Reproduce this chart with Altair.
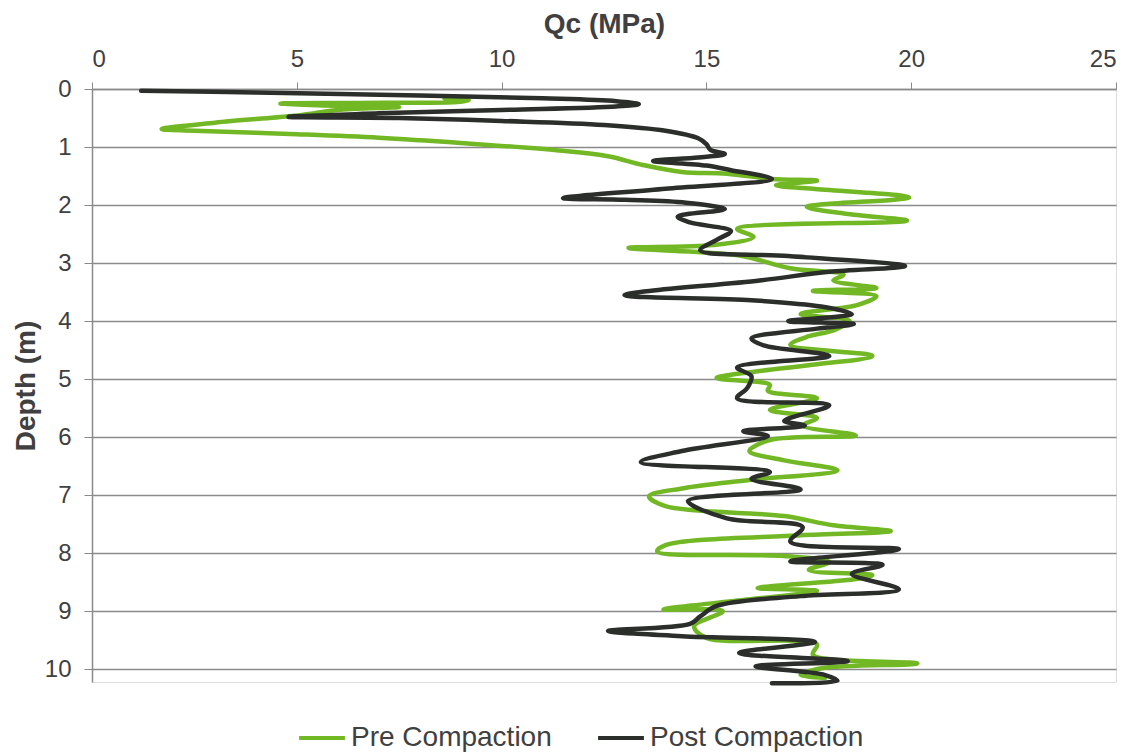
import altair as alt
import pandas as pd

series_names = ["Pre Compaction", "Post Compaction"]
series_colors = ["#72B825", "#2B2E2B"]

x_ticks = [0, 5, 10, 15, 20, 25]
y_ticks = [0, 1, 2, 3, 4, 5, 6, 7, 8, 9, 10]

pre_depth = [0.16, 0.19, 0.22, 0.24, 0.25, 0.28, 0.31, 0.36, 0.42, 0.47, 0.58, 0.69, 0.72, 0.78, 0.84, 0.93,
             1.06, 1.16, 1.31, 1.43, 1.46, 1.55, 1.58, 1.66, 1.72, 1.87, 2.03, 2.15, 2.27, 2.41, 2.55, 2.69,
             2.74, 2.87, 3.09, 3.2, 3.3, 3.43, 3.48, 3.57, 3.72, 3.88, 4.0, 4.16, 4.26, 4.41, 4.6, 4.76,
             4.86, 4.98, 5.1, 5.2, 5.33, 5.53, 5.67, 5.8, 5.97, 6.05, 6.24, 6.4, 6.57, 6.74, 6.88, 7.02,
             7.19, 7.36, 7.52, 7.62, 7.69, 7.86, 7.97, 8.05, 8.15, 8.29, 8.38, 8.45, 8.6, 8.65, 8.8, 8.97,
             9.0, 9.26, 9.46, 9.57, 9.75, 9.9, 9.98, 10.1, 10.15]
pre_qc = [8.6, 9.2, 9.0, 6.5, 4.6, 5.5, 7.5, 6.0, 5.4, 4.8, 3.0, 1.7, 2.5, 5.0, 7.0, 9.0,
          11.4, 12.6, 13.45, 14.4, 15.5, 16.6, 17.7, 16.7, 17.6, 19.95, 17.45, 18.4, 19.9, 15.75, 16.15, 15.15,
          13.1, 15.8, 17.05, 18.35, 18.1, 19.15, 17.6, 19.15, 18.7, 17.3, 18.5, 18.1, 17.5, 17.05, 19.05, 17.5,
          16.3, 15.25, 16.55, 16.5, 17.7, 16.55, 17.7, 17.35, 18.65, 16.55, 16.05, 16.9, 18.2, 16.05, 14.45, 13.6,
          14.0, 16.9, 18.1, 19.5, 17.3, 14.0, 13.8, 16.9, 18.0, 17.5, 19.05, 18.6, 16.25, 17.7, 16.0, 13.95,
          15.4, 14.7, 15.0, 17.7, 17.6, 20.15, 17.85, 17.3, 17.9]

post_depth = [0.03, 0.06, 0.11, 0.16, 0.21, 0.26, 0.3, 0.36, 0.42, 0.48, 0.5, 0.55, 0.62, 0.72, 0.85, 0.95,
              1.05, 1.12, 1.18, 1.24, 1.32, 1.4, 1.55, 1.72, 1.88, 1.91, 1.96, 2.07, 2.2, 2.3, 2.45, 2.6,
              2.78, 2.88, 3.05, 3.15, 3.3, 3.55, 3.64, 3.75, 3.88, 4.0, 4.05, 4.13, 4.3, 4.42, 4.6, 4.8,
              4.95, 5.15, 5.33, 5.45, 5.72, 5.8, 5.9, 5.98, 6.24, 6.43, 6.6, 6.72, 6.9, 7.1, 7.4, 7.55,
              7.8, 7.93, 8.14, 8.2, 8.36, 8.62, 8.74, 8.91, 9.09, 9.22, 9.34, 9.43, 9.53, 9.72, 9.86, 9.95,
              10.1, 10.2, 10.24]
post_qc = [1.2, 4.0, 8.0, 11.0, 12.8, 13.35, 12.8, 10.0, 7.0, 4.8, 7.5, 10.0, 12.5, 14.0, 14.8, 15.0,
           15.1, 15.45, 14.8, 13.7, 15.0, 15.6, 16.6, 14.0, 11.5, 13.0, 14.5, 15.45, 14.3, 14.6, 15.6, 15.25,
           14.85, 17.0, 19.85, 18.0, 16.3, 13.0, 16.1, 17.8, 18.55, 17.0, 18.6, 17.7, 16.1, 16.4, 18.0, 15.75,
           16.1, 16.0, 15.75, 18.0, 16.9, 17.4, 15.9, 16.5, 14.4, 13.4, 16.55, 16.1, 17.3, 14.55, 15.5, 17.35,
           17.05, 19.7, 17.05, 19.3, 18.55, 19.7, 17.3, 15.25, 14.85, 14.6, 12.6, 14.4, 17.65, 15.8, 18.45, 16.2,
           17.9, 18.2, 16.6]

rows = []
for i, (d, q) in enumerate(zip(pre_depth, pre_qc)):
    rows.append({"series": series_names[0], "depth": d, "qc": q, "idx": i})
for i, (d, q) in enumerate(zip(post_depth, post_qc)):
    rows.append({"series": series_names[1], "depth": d, "qc": q, "idx": i})
df = pd.DataFrame(rows)

color = alt.Color(
    "series:N",
    scale=alt.Scale(domain=series_names, range=series_colors),
    legend=alt.Legend(
        title=None, orient="none", direction="horizontal",
        legendX=205, legendY=624,
        symbolType="stroke", symbolStrokeWidth=4, symbolSize=2100,
        labelFont="Liberation Sans", labelFontSize=28, labelColor="#404040",
        labelOffset=4, columnPadding=38, labelLimit=400,
    ),
)

x = alt.X(
    "qc:Q",
    scale=alt.Scale(domain=[0, 25], nice=False, zero=False),
    axis=alt.Axis(
        orient="top", values=x_ticks, title="Qc (MPa)", grid=False,
        tickSize=7, tickColor="#8a8a8a", domainColor="#8a8a8a", domainWidth=1.5,
        labelFontSize=24, labelPadding=11, labelColor="#404040", labelFont="Liberation Sans",
        titleFont="Liberation Sans", titleFontSize=28, titleFontWeight="bold", titleColor="#404040",
        titlePadding=9,
    ),
)
y = alt.Y(
    "depth:Q",
    scale=alt.Scale(domain=[0, 10.22], reverse=True, nice=False, zero=False),
    axis=alt.Axis(
        values=y_ticks, title="Depth (m)", grid=True, gridColor="#8a8a8a", gridWidth=1.5,
        tickSize=8, tickColor="#8a8a8a", domainColor="#8a8a8a", domainWidth=1.5,
        labelFontSize=24, labelPadding=13, labelColor="#404040", labelFont="Liberation Sans",
        titleFont="Liberation Sans", titleFontSize=28, titleFontWeight="bold", titleColor="#404040",
        titlePadding=4,
    ),
)

base = alt.Chart(df).mark_line(
    strokeWidth=4.5, strokeJoin="round", strokeCap="round", interpolate="catmull-rom"
).encode(x=x, y=y, color=color, order="idx:Q")
pre = base.transform_filter(alt.datum.series == series_names[0])
post = base.transform_filter(alt.datum.series == series_names[1])

chart = alt.layer(pre, post).properties(
    width=1024, height=593,
    padding={"left": 4, "top": 2, "right": 5, "bottom": 0},
).configure_view(stroke=None).configure(background="white")

chart.save("out.html", embed_options={"renderer": "svg", "actions": False})
